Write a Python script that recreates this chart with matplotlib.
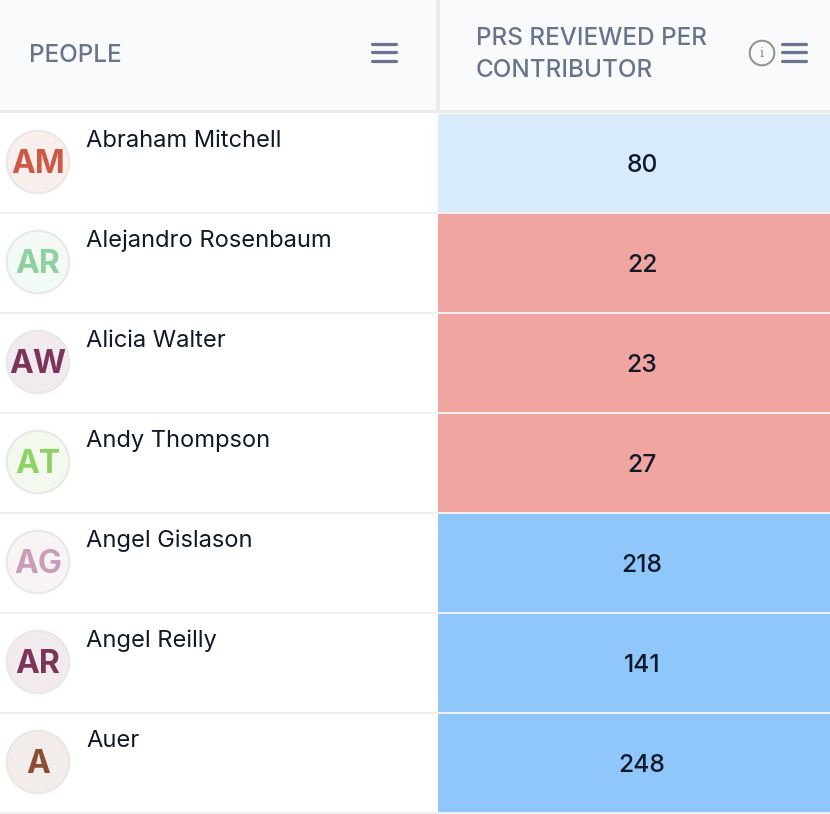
import matplotlib
matplotlib.use('Agg')
import matplotlib.pyplot as plt
from matplotlib.patches import Circle, Rectangle

plt.rcParams['font.family'] = ['Inter', 'DejaVu Sans']

# table contents
people = ['Abraham Mitchell', 'Alejandro Rosenbaum', 'Alicia Walter', 'Andy Thompson',
          'Angel Gislason', 'Angel Reilly', 'Auer']
initials = ['AM', 'AR', 'AW', 'AT', 'AG', 'AR', 'A']
prs_reviewed = [80, 22, 23, 27, 218, 141, 248]
avatar_colors = ['#cd5846', '#8fd19e', '#7a3558', '#8dd364', '#c99db5', '#7a3558', '#8a4f33']
avatar_bgs = ['#f8eeec', '#f3f9f5', '#f1eaee', '#f3f9ef', '#f8f4f6', '#f1eaee', '#f2edeb']
col_headers = ['PEOPLE', 'PRS REVIEWED PER\nCONTRIBUTOR']


def cell_color(value):
    if value < 50:
        return '#f0a5a0'
    if value < 100:
        return '#d8ebfb'
    return '#8fc7fb'


def hamburger(ax, x0, x1, yc):
    for dy in (-8.5, 0, 8.5):
        ax.plot([x0, x1], [yc + dy, yc + dy], color='#6b7590', lw=2.3,
                solid_capstyle='round', zorder=3)


fig = plt.figure(figsize=(8.3, 8.14), dpi=100, facecolor='white')
ax = fig.add_axes([0, 0, 1, 1])
ax.set_xlim(0, 830)
ax.set_ylim(814, 0)
ax.axis('off')

# header
ax.add_patch(Rectangle((0, 0), 830, 110, fc='#f9fafc', ec='none'))
ax.add_patch(Rectangle((0, 110), 830, 3, fc='#ebebee', ec='none'))
ax.add_patch(Rectangle((436, 0), 4, 110, fc='#ebebee', ec='none'))
ax.text(28.5, 55, col_headers[0], fontsize=17.45, fontweight='medium', color='#68738d',
        va='center', ha='left')
ax.text(476, 54.5, col_headers[1], fontsize=17.45, fontweight='medium', color='#68738d',
        va='center', ha='left', linespacing=1.5)
hamburger(ax, 371.5, 396, 52)
hamburger(ax, 781.5, 806, 52)
ax.add_patch(Circle((762, 53), 12.3, fc='none', ec='#8f8f8f', lw=1.4))
ax.text(762, 53.5, 'i', fontsize=9.5, color='#8f8f8f', ha='center', va='center',
        family='DejaVu Serif')

# rows
for i, name in enumerate(people):
    top = 114 + 100 * i
    ax.add_patch(Rectangle((438, top), 392, 98, fc=cell_color(prs_reviewed[i]), ec='none'))
    ax.add_patch(Rectangle((0, top + 98), 830, 2, fc='#f0f0f4', ec='none'))
    ax.add_patch(Circle((38, top + 48), 31.3, fc=avatar_bgs[i], ec='#e8e8e8', lw=1.5))
    ax.text(38, top + 47, initials[i], fontsize=23, fontweight='bold', color=avatar_colors[i],
            ha='center', va='center_baseline')
    ax.text(86.3, top + 24.6, name, fontsize=17.05, color='#10182a', ha='left', va='center_baseline')
    ax.text(642, top + 49.2, str(prs_reviewed[i]), fontsize=17.7, fontweight='medium', color='#10182a',
            ha='center', va='center_baseline')

fig.savefig('out.png', dpi=100)
